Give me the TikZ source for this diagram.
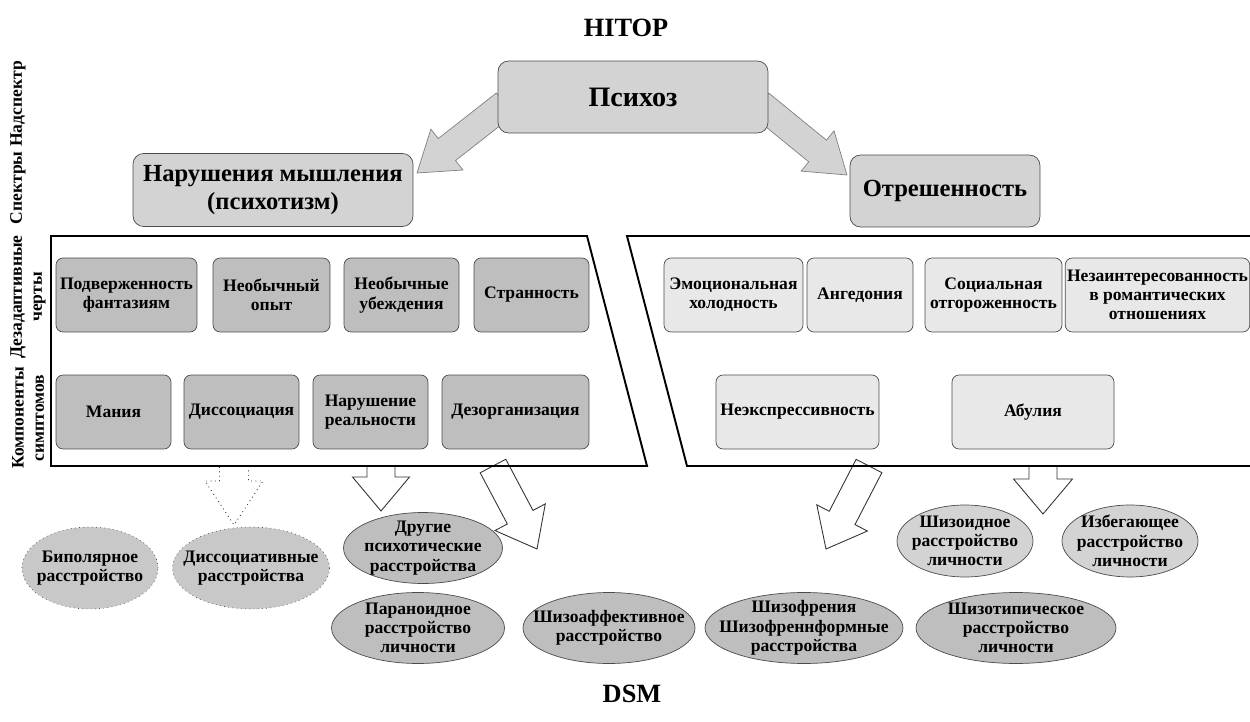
\documentclass[tikz,border=0pt]{standalone}
\usepackage{fontspec}
\setmainfont{Liberation Serif}
\usetikzlibrary{calc,shapes.geometric}
\definecolor{boxgray}{RGB}{211,211,211}
\definecolor{darkfill}{RGB}{190,190,190}
\definecolor{lightfill}{RGB}{232,232,232}
\definecolor{dotfill}{RGB}{200,200,200}
\definecolor{rimgray}{RGB}{75,75,75}
% wide block arrow: [style]{start}{tip}{half shaft}{half head}{head length}
\newcommand{\fatarrow}[6][]{%
  \coordinate (fa-h) at ($(#3)!#6!(#2)$);
  \draw[#1] ($(#2)!#4!90:(#3)$) -- ($(fa-h)!#4!90:(#3)$)
    -- ($(fa-h)!#5!90:(#3)$) -- (#3) -- ($(fa-h)!#5!-90:(#3)$)
    -- ($(fa-h)!#4!-90:(#3)$) -- ($(#2)!#4!-90:(#3)$) -- cycle;}

\begin{document}
\begin{tikzpicture}[x=0.02cm,y=-0.02cm,
    every node/.style={font=\bfseries\fontsize{10}{11}\selectfont,align=center,inner sep=1pt},
    title/.style={font=\bfseries\fontsize{15}{17}\selectfont},
    level/.style={rotate=90,font=\bfseries\fontsize{10}{11.5}\selectfont},
    topbox/.style={draw=rimgray,fill=boxgray,rounded corners=6pt,
      font=\bfseries\fontsize{14}{16}\selectfont},
    darkbox/.style={draw=rimgray,fill=darkfill,rounded corners=4pt,minimum height=1.48cm},
    lightbox/.style={draw=rimgray,fill=lightfill,rounded corners=4pt,minimum height=1.48cm},
    dsm/.style={ellipse,draw=rimgray,fill=darkfill,inner sep=0pt,minimum height=1.42cm},
    dsmlight/.style={dsm,fill=boxgray},
    dsmdot/.style={dsm,fill=dotfill,draw=black!70,dotted},
    frame/.style={line width=1.1pt},
    bigarrow/.style={fill=boxgray,draw=gray},
    openarrow/.style={fill=white,draw=black!80,line width=0.5pt}]
  \useasboundingbox (0,0) rectangle (1250,722);

  \node[title] (hitop) at (626,28) {HITOP};
  \node[title] (dsmt) at (632,694) {DSM};

  % levels
  \node[level] (lvl1) at (18,104) {Надспектр};
  \node[level] (lvl2) at (18,188) {Спектры};
  \node[level] (lvl3) at (28,297) {Дезадаптивные\\черты};
  \node[level] (lvl4) at (28,418) {Компоненты\\симптомов};

  % superspectrum and spectra
  \coordinate (psyL) at (505,104);
  \coordinate (psyR) at (760,104);
  \coordinate (thinkTip) at (417,173);
  \coordinate (detTip) at (847,175);
  \fatarrow[bigarrow]{psyL}{thinkTip}{0.28cm}{0.52cm}{0.76cm}
  \fatarrow[bigarrow]{psyR}{detTip}{0.28cm}{0.52cm}{0.76cm}
  \node[topbox,font=\bfseries\fontsize{16}{18}\selectfont,
    minimum width=5.4cm,minimum height=1.44cm] (psy) at (633,97) {Психоз};
  \node[topbox,minimum width=5.6cm,minimum height=1.46cm] (think) at (273,190)
    {Нарушения мышления\\(психотизм)};
  \node[topbox,minimum width=3.8cm,minimum height=1.44cm] (detach) at (945,191)
    {Отрешенность};

  % arrows down to DSM
  \coordinate (dissS) at (234,466); \coordinate (dissT) at (234,525);
  \coordinate (otherS) at (381,466); \coordinate (otherT) at (381,511);
  \coordinate (affS) at (493,466); \coordinate (affT) at (537,549);
  \coordinate (schS) at (869,466); \coordinate (schT) at (826,549);
  \coordinate (pdS) at (1043,466); \coordinate (pdT) at (1043,514);
  \fatarrow[openarrow,dotted]{dissS}{dissT}{0.29cm}{0.58cm}{0.88cm}
  \fatarrow[openarrow]{otherS}{otherT}{0.28cm}{0.57cm}{0.68cm}
  \fatarrow[openarrow]{affS}{affT}{0.29cm}{0.57cm}{0.72cm}
  \fatarrow[openarrow]{schS}{schT}{0.29cm}{0.57cm}{0.70cm}
  \fatarrow[openarrow]{pdS}{pdT}{0.28cm}{0.59cm}{0.70cm}

  \draw[frame] (51,236) -- (587,236) -- (647,466) -- (51,466) -- cycle;
  \draw[frame] (1250,236) -- (627,236) -- (687,466) -- (1250,466);

  % thought disorder
  \node[darkbox,minimum width=2.82cm] (fant) at (126.5,295) {Подверженность\\фантазиям};
  \node[darkbox,minimum width=2.34cm] (unexp) at (271.5,295) {Необычный\\опыт};
  \node[darkbox,minimum width=2.30cm] (belief) at (401.5,295) {Необычные\\убеждения};
  \node[darkbox,minimum width=2.30cm] (odd) at (531.5,295) {Странность};
  \node[darkbox,minimum width=2.30cm] (mania) at (113.5,412) {Мания};
  \node[darkbox,minimum width=2.30cm] (disso) at (241.5,412) {Диссоциация};
  \node[darkbox,minimum width=2.30cm] (reality) at (370.5,412) {Нарушение\\реальности};
  \node[darkbox,minimum width=2.94cm] (disorg) at (515.5,412) {Дезорганизация};

  % detachment
  \node[lightbox,minimum width=2.78cm] (cold) at (733.5,295) {Эмоциональная\\холодность};
  \node[lightbox,minimum width=2.12cm] (anhed) at (860,295) {Ангедония};
  \node[lightbox,minimum width=2.74cm] (social) at (993.5,295) {Социальная\\отгороженность};
  \node[lightbox,minimum width=3.66cm] (roman) at (1157.5,295)
    {Незаинтересованность\\в романтических\\отношениях};
  \node[lightbox,minimum width=3.26cm] (inexp) at (797.5,412) {Неэкспрессивность};
  \node[lightbox,minimum width=3.24cm] (avol) at (1033,412) {Абулия};

  % DSM diagnoses
  \node[dsmdot,minimum width=2.72cm,minimum height=1.64cm,
    label=center:{Биполярное\\расстройство}] (bip) at (90,568) {};
  \node[dsmdot,minimum width=3.14cm,minimum height=1.64cm,
    label=center:{Диссоциативные\\расстройства}] (dissd) at (251,568) {};
  \node[dsm,minimum width=3.18cm,
    label=center:{Другие\\психотические\\расстройства}] (other) at (423,548) {};
  \node[dsm,minimum width=3.46cm,
    label=center:{Параноидное\\расстройство\\личности}] (para) at (418,628) {};
  \node[dsm,minimum width=3.44cm,
    label=center:{Шизоаффективное\\расстройство}] (schaff) at (609,628) {};
  \node[dsm,minimum width=3.96cm,
    label=center:{Шизофрения\\Шизофреннформные\\расстройства}] (schiz) at (804,628) {};
  \node[dsmlight,minimum width=2.72cm,minimum height=1.44cm,
    label=center:{Шизоидное\\расстройство\\личности}] (schizoid) at (965,541) {};
  \node[dsmlight,minimum width=2.72cm,minimum height=1.44cm,
    label=center:{Избегающее\\расстройство\\личности}] (avoid) at (1130,541) {};
  \node[dsm,minimum width=4.0cm,
    label=center:{Шизотипическое\\расстройство\\личности}] (schtyp) at (1016,628) {};
\end{tikzpicture}
\end{document}
